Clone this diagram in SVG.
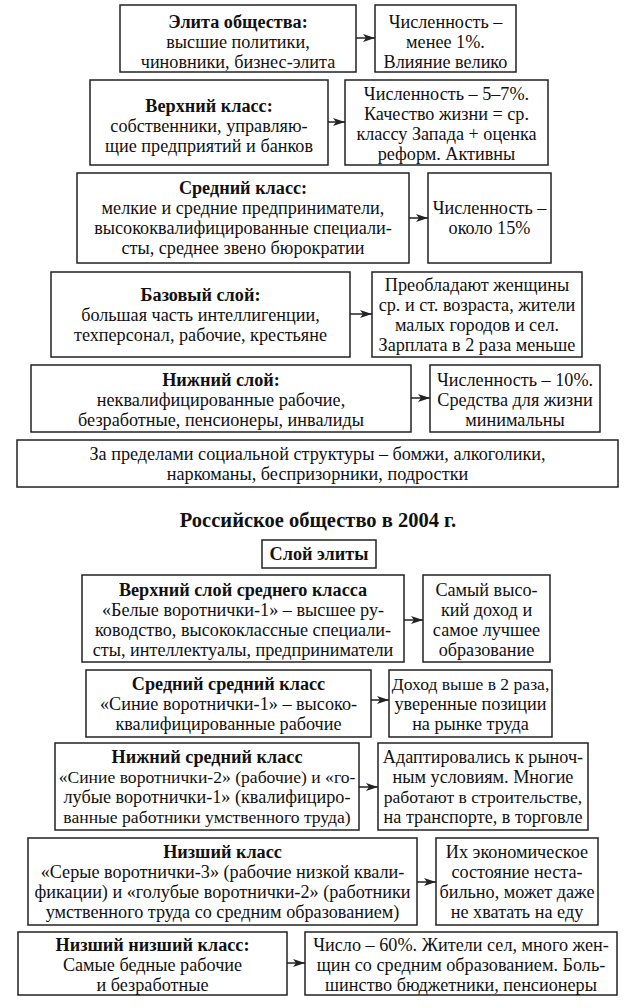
<svg xmlns="http://www.w3.org/2000/svg" width="636" height="1008" viewBox="0 0 636 1008" font-family="'Liberation Serif', 'Times New Roman', 'DejaVu Serif', serif">
<defs>
<style>
.b{fill:#fff;stroke:#222;stroke-width:1.5}
text{font-family:'Liberation Serif','Times New Roman','DejaVu Serif',serif;font-size:18.2px;fill:#111;text-anchor:middle}
.h{font-weight:bold}
.s{font-size:17.6px}
.t{font-weight:bold;font-size:20.5px}
.c{stroke:#222;stroke-width:1.5;fill:none}
</style>
<marker id="a" viewBox="0 0 12 8" refX="12" refY="4" markerWidth="12" markerHeight="8" markerUnits="userSpaceOnUse" orient="auto">
<path d="M0,0 L12,4 L0,8 L3,4 Z" fill="#222"/>
</marker>
</defs>
<rect width="636" height="1008" fill="#fff"/>

<g id="conn">
<line class="c" x1="356" y1="38" x2="375" y2="38" marker-end="url(#a)"/>
<line class="c" x1="328" y1="122" x2="345" y2="122" marker-end="url(#a)"/>
<line class="c" x1="409" y1="218" x2="428" y2="218" marker-end="url(#a)"/>
<line class="c" x1="350" y1="314" x2="372" y2="314" marker-end="url(#a)"/>
<line class="c" x1="411" y1="398" x2="430" y2="398" marker-end="url(#a)"/>
<line class="c" x1="404" y1="620" x2="423" y2="620" marker-end="url(#a)"/>
<line class="c" x1="371" y1="700" x2="389" y2="700" marker-end="url(#a)"/>
<line class="c" x1="359" y1="787" x2="378" y2="787" marker-end="url(#a)"/>
<line class="c" x1="417" y1="882" x2="436" y2="882" marker-end="url(#a)"/>
<line class="c" x1="287" y1="963" x2="305" y2="963" marker-end="url(#a)"/>
</g>

<g id="n1">
<rect class="b" x="120" y="5" width="236" height="67"/>
<text x="238" y="28" class="h">Элита общества:</text>
<text x="238" y="48">высшие политики,</text>
<text x="238" y="68">чиновники, бизнес-элита</text>
</g>
<g id="n1r">
<rect class="b" x="375" y="5" width="141" height="67"/>
<text x="445.5" y="28">Численность –</text>
<text x="445.5" y="48">менее 1%.</text>
<text x="445.5" y="68">Влияние велико</text>
</g>

<g id="n2">
<rect class="b" x="90" y="80" width="238" height="85"/>
<text x="209" y="112" class="h">Верхний класс:</text>
<text x="209" y="132">собственники, управляю-</text>
<text x="209" y="152">щие предприятий и банков</text>
</g>
<g id="n2r">
<rect class="b" x="345" y="80" width="203" height="85"/>
<text x="446.5" y="100">Численность – 5–7%.</text>
<text x="446.5" y="120">Качество жизни = ср.</text>
<text x="446.5" y="140">классу Запада + оценка</text>
<text x="446.5" y="160">реформ. Активны</text>
</g>

<g id="n3">
<rect class="b" x="77" y="173" width="332" height="90"/>
<text x="243" y="194" class="h">Средний класс:</text>
<text x="243" y="214">мелкие и средние предприниматели,</text>
<text x="243" y="234">высококвалифицированные специали-</text>
<text x="243" y="254">сты, среднее звено бюрократии</text>
</g>
<g id="n3r">
<rect class="b" x="428" y="173" width="123" height="90"/>
<text x="489.5" y="214">Численность –</text>
<text x="489.5" y="234">около 15%</text>
</g>

<g id="n4">
<rect class="b" x="51" y="272" width="299" height="85"/>
<text x="200.5" y="301" class="h">Базовый слой:</text>
<text x="200.5" y="321">большая часть интеллигенции,</text>
<text x="200.5" y="341">техперсонал, рабочие, крестьяне</text>
</g>
<g id="n4r">
<rect class="b" x="372" y="272" width="210" height="85"/>
<text x="477" y="291">Преобладают женщины</text>
<text x="477" y="311">ср. и ст. возраста, жители</text>
<text x="477" y="331">малых городов и сел.</text>
<text x="477" y="351">Зарплата в 2 раза меньше</text>
</g>

<g id="n5">
<rect class="b" x="31" y="365" width="380" height="67"/>
<text x="221" y="386" class="h">Нижний слой:</text>
<text x="221" y="406">неквалифицированные рабочие,</text>
<text x="221" y="426">безработные, пенсионеры, инвалиды</text>
</g>
<g id="n5r">
<rect class="b" x="430" y="365" width="170" height="67"/>
<text x="515" y="386">Численность – 10%.</text>
<text x="515" y="406">Средства для жизни</text>
<text x="515" y="426">минимальны</text>
</g>

<g id="n6">
<rect class="b" x="17" y="440" width="601" height="47"/>
<text x="317.5" y="460">За пределами социальной структуры – бомжи, алкоголики,</text>
<text x="317.5" y="480">наркоманы, беспризорники, подростки</text>
</g>

<g id="title">
<text x="318" y="527" class="t">Российское общество в 2004 г.</text>
</g>

<g id="n7">
<rect class="b" x="262" y="540" width="114" height="28"/>
<text x="319" y="560" class="h">Слой элиты</text>
</g>

<g id="n8">
<rect class="b" x="82" y="575" width="322" height="87"/>
<text x="243" y="596" class="h">Верхний слой среднего класса</text>
<text x="243" y="616">«Белые воротнички-1» – высшее ру-</text>
<text x="243" y="636">ководство, высококлассные специали-</text>
<text x="243" y="656">сты, интеллектуалы, предприниматели</text>
</g>
<g id="n8r">
<rect class="b" x="423" y="575" width="127" height="87"/>
<text x="486.5" y="596">Самый высо-</text>
<text x="486.5" y="616">кий доход и</text>
<text x="486.5" y="636">самое лучшее</text>
<text x="486.5" y="656">образование</text>
</g>

<g id="n9">
<rect class="b" x="86" y="670" width="285" height="67"/>
<text x="228.5" y="690" class="h">Средний средний класс</text>
<text x="228.5" y="710">«Синие воротнички-1» – высоко-</text>
<text x="228.5" y="730">квалифицированные рабочие</text>
</g>
<g id="n9r">
<rect class="b" x="389" y="670" width="163" height="67"/>
<text x="470.5" y="690" class="s">Доход выше в 2 раза,</text>
<text x="470.5" y="710">уверенные позиции</text>
<text x="470.5" y="730">на рынке труда</text>
</g>

<g id="n10">
<rect class="b" x="55" y="743" width="304" height="87"/>
<text x="207" y="763" class="h">Нижний средний класс</text>
<text x="207" y="783" class="s">«Синие воротнички-2» (рабочие) и «го-</text>
<text x="207" y="803">лубые воротнички-1» (квалифициро-</text>
<text x="207" y="823" class="s">ванные работники умственного труда)</text>
</g>
<g id="n10r">
<rect class="b" x="378" y="743" width="210" height="87"/>
<text x="483" y="763">Адаптировались к рыноч-</text>
<text x="483" y="783">ным условиям. Многие</text>
<text x="483" y="803" class="s">работают в строительстве,</text>
<text x="483" y="823">на транспорте, в торговле</text>
</g>

<g id="n11">
<rect class="b" x="28" y="838" width="389" height="87"/>
<text x="222.5" y="858" class="h">Низший класс</text>
<text x="222.5" y="878">«Серые воротнички-3» (рабочие низкой квали-</text>
<text x="222.5" y="898">фикации) и «голубые воротнички-2» (работники</text>
<text x="222.5" y="918">умственного труда со средним образованием)</text>
</g>
<g id="n11r">
<rect class="b" x="436" y="838" width="162" height="87"/>
<text x="517" y="858">Их экономическое</text>
<text x="517" y="878">состояние неста-</text>
<text x="517" y="898">бильно, может даже</text>
<text x="517" y="918">не хватать на еду</text>
</g>

<g id="n12">
<rect class="b" x="18" y="932" width="269" height="63"/>
<text x="152.5" y="951" class="h">Низший низший класс:</text>
<text x="152.5" y="971">Самые бедные рабочие</text>
<text x="152.5" y="991">и безработные</text>
</g>
<g id="n12r">
<rect class="b" x="305" y="932" width="312" height="63"/>
<text x="461" y="951">Число – 60%. Жители сел, много жен-</text>
<text x="461" y="971">щин со средним образованием. Боль-</text>
<text x="461" y="991">шинство бюджетники, пенсионеры</text>
</g>
</svg>
